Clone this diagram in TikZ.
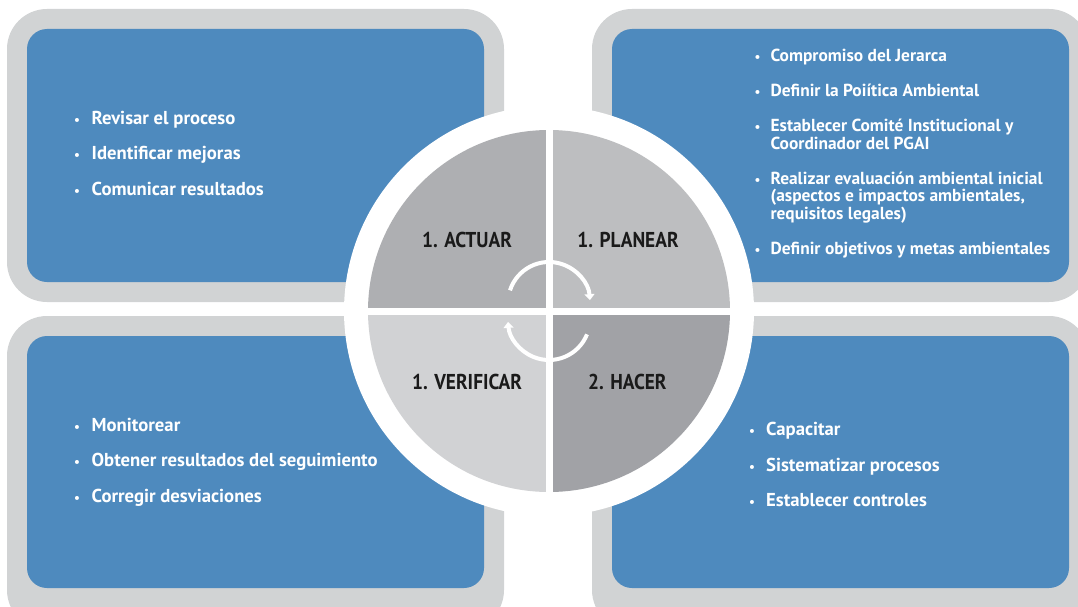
\documentclass[tikz,border=0pt]{standalone}
\usepackage{fontspec}
\setmainfont{PT Sans}
\newfontfamily\condfont{PT Sans}[FakeStretch=0.9]
\usetikzlibrary{arrows.meta}
\definecolor{boxgray}{HTML}{D1D3D4}
\definecolor{boxblue}{HTML}{4E8ABE}
\definecolor{qtl}{HTML}{AEAFB2}
\definecolor{qtr}{HTML}{BDBEC0}
\definecolor{qbl}{HTML}{D1D2D4}
\definecolor{qbr}{HTML}{A1A2A6}
\definecolor{labtext}{HTML}{1A1A1A}
\tikzset{
  outerbox/.style={fill=boxgray, rounded corners=40pt},
  innerbox/.style={fill=boxblue, rounded corners=20pt},
  itemtext/.style={anchor=base west, text=white, inner sep=0pt,
    font=\fontsize{18.7}{19}\selectfont\bfseries},
  itemsmall/.style={itemtext, font=\fontsize{17.4}{18}\selectfont\bfseries},
  bul/.style={anchor=base, text=white, inner sep=0pt,
    font=\fontsize{13}{13}\selectfont\bfseries},
  phase/.style={anchor=base, text=labtext, inner sep=0pt,
    font=\condfont\fontsize{21.5}{21.5}\selectfont\bfseries},
  cyc/.style={white, line width=4pt, -{Triangle[width=10pt,length=6pt]}}
}
\begin{document}
\begin{tikzpicture}[x=1pt,y=-1pt]
\useasboundingbox (0,0) rectangle (1078,607);
\clip (0,0) rectangle (1078,607);
% boxes
\fill[outerbox] (7,9) rectangle (504,302);
\fill[innerbox] (27,29) rectangle (484,282);
\fill[outerbox] (592,9) rectangle (1089,302);
\fill[innerbox] (612,29) rectangle (1069,282);
\fill[outerbox] (7,316) rectangle (504,630);
\fill[innerbox] (27,336) rectangle (484,588);
\fill[outerbox] (592,316) rectangle (1089,630);
\fill[innerbox] (612,336) rectangle (1069,588);
% circle
\coordinate (c) at (549,311);
\fill[white] (c) circle[radius=205pt];
\fill[qtl] (c) -- ++(180:181pt) arc[start angle=180,end angle=90,radius=181pt] -- cycle;
\fill[qtr] (c) -- ++(90:181pt) arc[start angle=90,end angle=0,radius=181pt] -- cycle;
\fill[qbr] (c) -- ++(0:181pt) arc[start angle=0,end angle=-90,radius=181pt] -- cycle;
\fill[qbl] (c) -- ++(-90:181pt) arc[start angle=-90,end angle=-180,radius=181pt] -- cycle;
\draw[white,line width=7pt] ([yshift=190pt]c) -- ([yshift=-190pt]c);
\draw[white,line width=7pt] ([xshift=-190pt]c) -- ([xshift=190pt]c);
% cycle arrows
\coordinate (ca) at (549,303);
\coordinate (cb) at (549,319);
\draw[cyc] ([shift={(162:41pt)}]ca) arc[start angle=162,end angle=4,radius=41pt];
\draw[cyc] ([shift={(-22:41pt)}]cb) arc[start angle=-22,end angle=-176,radius=41pt];
% phase labels
\node[phase] (actuar) at (467,247.7) {1. ACTUAR};
\node[phase] (planear) at (628,247.7) {1. PLANEAR};
\node[phase] (verificar) at (467,389.3) {1. VERIFICAR};
\node[phase] (hacer) at (627.3,389.3) {2. HACER};
% top-left items
\node[bul] (b11) at (77,124.7) {•};
\node[itemtext] (t11) at (91.5,124.7) {Revisar el proceso};
\node[bul] (b12) at (77,159.7) {•};
\node[itemtext] (t12) at (91.5,159.7) {Identificar mejoras};
\node[bul] (b13) at (77,195.2) {•};
\node[itemtext] (t13) at (91.5,195.2) {Comunicar resultados};
% top-right items
\node[bul] (b21) at (757.5,61.3) {•};
\node[itemsmall] (t21) at (770.4,61.3) {Compromiso del Jerarca};
\node[bul] (b22) at (757.5,97) {•};
\node[itemsmall] (t22) at (770.4,97) {Definir la Poiítica Ambiental};
\node[bul] (b23) at (757.5,131.5) {•};
\node[itemsmall] (t23) at (770.4,131.5) {Establecer Comité Institucional y};
\node[itemsmall] (t23b) at (770.4,149.5) {Coordinador del PGAI};
\node[bul] (b24) at (757.5,184.7) {•};
\node[itemsmall] (t24) at (770.4,184.7) {Realizar evaluación ambiental inicial};
\node[itemsmall] (t24b) at (770.4,201.8) {(aspectos e impactos ambientales,};
\node[itemsmall] (t24c) at (770.4,219) {requisitos legales)};
\node[bul] (b25) at (757.5,254.7) {•};
\node[itemsmall] (t25) at (770.4,254.7) {Definir objetivos y metas ambientales};
% bottom-left items
\node[bul] (b31) at (77,431) {•};
\node[itemtext] (t31) at (91.5,431) {Monitorear};
\node[bul] (b32) at (77,466.7) {•};
\node[itemtext] (t32) at (91.5,466.7) {Obtener resultados del seguimiento};
\node[bul] (b33) at (77,502) {•};
\node[itemtext] (t33) at (91.5,502) {Corregir desviaciones};
% bottom-right items
\node[bul] (b41) at (752,435) {•};
\node[itemtext] (t41) at (765.9,435) {Capacitar};
\node[bul] (b42) at (752,471) {•};
\node[itemtext] (t42) at (765.9,471) {Sistematizar procesos};
\node[bul] (b43) at (752,506) {•};
\node[itemtext] (t43) at (765.9,506) {Establecer controles};
\end{tikzpicture}
\end{document}
